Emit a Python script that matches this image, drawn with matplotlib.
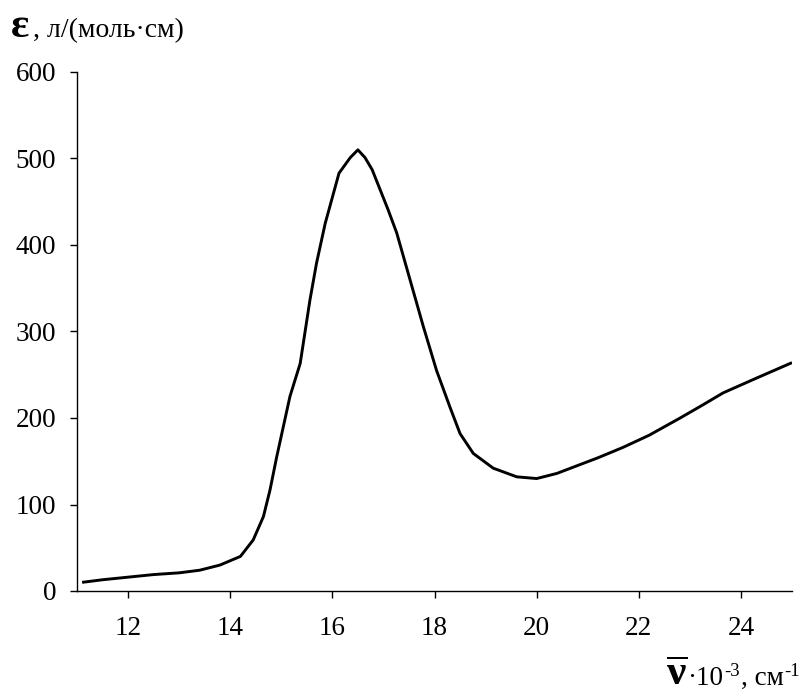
import matplotlib
matplotlib.use("Agg")
import matplotlib.pyplot as plt

plt.rcParams['font.family'] = ['Liberation Serif', 'DejaVu Serif']
plt.rcParams['mathtext.fontset'] = 'custom'
plt.rcParams['mathtext.rm'] = 'Liberation Serif'
plt.rcParams['mathtext.it'] = 'Liberation Serif:italic'
plt.rcParams['mathtext.bf'] = 'Liberation Serif:bold'

# absorption spectrum: wavenumber (10^3 cm^-1) vs molar absorptivity
wavenumber = [11.1, 11.5, 12.0, 12.5, 13.0, 13.4, 13.8, 14.2, 14.45, 14.65, 14.78,
              14.91, 15.04, 15.17, 15.37, 15.43, 15.56, 15.69, 15.86, 16.13, 16.35,
              16.5, 16.64, 16.78, 17.09, 17.26, 17.52, 17.78, 18.04, 18.3, 18.5,
              18.76, 19.15, 19.61, 20.0, 20.4, 20.71, 21.2, 21.69, 22.2, 22.81,
              23.25, 23.65, 24.3, 25.0]
epsilon = [10, 13, 16, 19, 21, 24, 30, 40, 59, 86, 117,
           155, 190, 225, 263, 286, 336, 379, 425, 483, 501,
           510, 501, 487, 441, 414, 360, 306, 255, 213, 182,
           159, 142, 132, 130, 136, 143, 154, 166, 180, 200,
           215, 229, 246, 264]

x_ticks = [12, 14, 16, 18, 20, 22, 24]
y_ticks = [0, 100, 200, 300, 400, 500, 600]

W, H = 806, 693
fig = plt.figure(figsize=(W / 100, H / 100), dpi=100)
ax = fig.add_axes([77 / W, 1 - 591 / H, 715 / W, 519 / H])

ax.plot(wavenumber, epsilon, color='black', lw=2.1,
        solid_joinstyle='round', solid_capstyle='butt')

ax.set_xlim(11, 25)
ax.set_ylim(0, 600)
ax.set_xticks(x_ticks)
ax.set_yticks(y_ticks)
ax.tick_params(direction='out', length=5, width=1, labelsize=19.5, color='black')
ax.tick_params(axis='y', pad=10)
ax.tick_params(axis='x', pad=13)
for side in ('top', 'right'):
    ax.spines[side].set_visible(False)
for side in ('left', 'bottom'):
    ax.spines[side].set_linewidth(1)


def px(x, y):
    return x / W, 1 - y / H


# y caption
fig.text(*px(11, 37), 'ε', fontsize=31, fontweight='bold', va='baseline')
fig.text(*px(33, 37), ', л/(моль·см)', fontsize=20, va='baseline')

# x caption, pieces laid out left to right from their measured widths
renderer = fig.canvas.get_renderer()
pieces = [(r'$\overline{\mathbf{ν}}$', 31, 0, 0),
          ('·10', 19.5, 0, 1),
          ('-3', 13.5, -9, 1),
          (', см', 19.5, 0, 1),
          ('-1', 13.5, -9, 0)]
cursor = 666
for s, size, rise, gap in pieces:
    t = fig.text(*px(cursor, 685 + rise), s, fontsize=size, va='baseline')
    cursor = t.get_window_extent(renderer).x1 + gap

fig.savefig('out.png', dpi=100)
